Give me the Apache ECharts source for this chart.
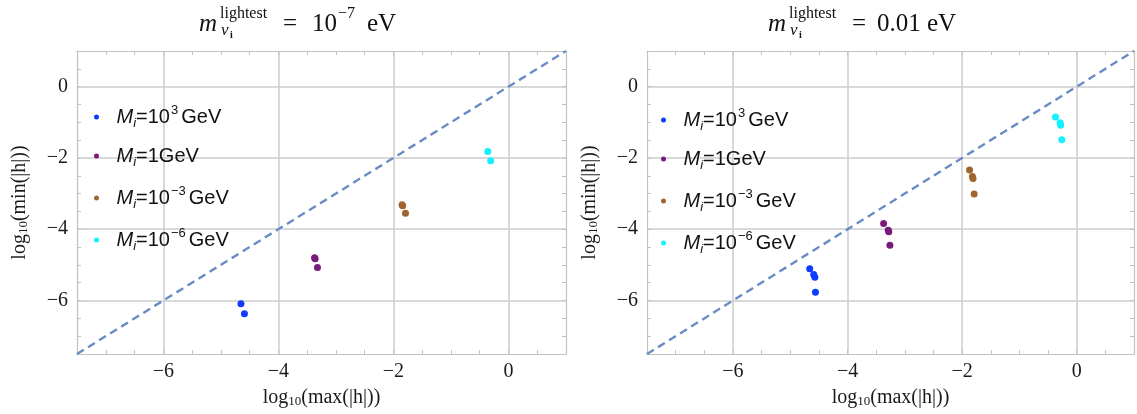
<!DOCTYPE html>
<html>
<head>
<meta charset="utf-8">
<script src="https://cdn.jsdelivr.net/npm/echarts@6/dist/echarts.min.js"></script>
<style>
  html, body { margin: 0; padding: 0; background: #ffffff; }
  #chart { width: 1137px; height: 414px; }
</style>
</head>
<body>
<div id="chart"></div>
<script>
// Shared axis range for both log-log panels (log10 of |h|)
const axisMin = -7.5;
const axisMax = 1;
const tickStep = 0.5;
const labelledTicks = [-6, -4, -2, 0];

// Heavy neutrino masses M_i, as powers of ten in GeV
const massPowers = [3, 0, -3, -6];

// Panel 1: lightest light-neutrino mass 1e-7 eV  [log10 max|h|, log10 min|h|]
const leftM1e3 = [[-4.65, -6.09], [-4.59, -6.37]];
const leftM1 = [[-3.37, -4.80], [-3.36, -4.83], [-3.32, -5.07]];
const leftM1em3 = [[-1.85, -3.31], [-1.84, -3.34], [-1.79, -3.55]];
const leftM1em6 = [[-0.36, -1.82], [-0.31, -2.08]];

// Panel 2: lightest light-neutrino mass 0.01 eV
const rightM1e3 = [[-4.66, -5.11], [-4.59, -5.27], [-4.57, -5.35], [-4.56, -5.77]];
const rightM1 = [[-3.37, -3.84], [-3.29, -4.03], [-3.28, -4.07], [-3.26, -4.45]];
const rightM1em3 = [[-1.87, -2.34], [-1.82, -2.52], [-1.81, -2.58], [-1.79, -3.01]];
const rightM1em6 = [[-0.37, -0.85], [-0.29, -1.01], [-0.28, -1.08], [-0.26, -1.49]];

// Reference diagonal min|h| = max|h|
const diagonal = [[axisMin, axisMin], [axisMax, axisMax]];

const panelData = [
  [leftM1e3, leftM1, leftM1em3, leftM1em6],
  [rightM1e3, rightM1, rightM1em3, rightM1em6]
];

const markerColors = ['#0f3cff', '#7a1a7a', '#a0652e', '#14f0ff'];
const frameColor = '#c2c2c2';
const gridColor = '#cdcdcd';
const serif = '"Liberation Serif", "DejaVu Serif", serif';
const sans = '"Liberation Sans", Arial, sans-serif';

const seriesNames = massPowers.map(p => 'M_i=' + (p === 0 ? '1' : '10^' + p) + 'GeV');

function legendRich(name) {
  const p = massPowers[seriesNames.indexOf(name)];
  if (p === 0) return '{it|M}{sub|i}{t|=1GeV}';
  const e = p < 0 ? '\u2212' + (-p) : String(p);
  return '{it|M}{sub|i}{t|=10}{sup|' + e + '}{t|GeV}';
}

function tickText(v) {
  if (labelledTicks.indexOf(v) < 0) return '';
  return v < 0 ? '\u2212' + (-v) : String(v);
}

const grids = [
  { left: 77, top: 51, width: 489, height: 303 },
  { left: 647, top: 51, width: 489, height: 303 }
];

const nameRich = {
  a: { fontFamily: serif, fontSize: 20, color: '#1a1a1a' },
  s: { fontFamily: serif, fontSize: 13, color: '#1a1a1a', verticalAlign: 'bottom', lineHeight: 13 }
};

// every 4th line (starting at the 4th) is a labelled gridline
const splitColors = ['rgba(0,0,0,0)', 'rgba(0,0,0,0)', 'rgba(0,0,0,0)', gridColor];

const xAxes = [];
const yAxes = [];
grids.forEach((g, gi) => {
  const common = {
    gridIndex: gi, type: 'value', min: axisMin, max: axisMax, interval: tickStep,
    axisLine: { show: true, onZero: false, lineStyle: { color: frameColor, width: 1.2 } },
    axisTick: { show: true, inside: true, length: 4, lineStyle: { color: frameColor, width: 1 } }
  };
  xAxes.push(Object.assign({}, common, {
    position: 'bottom',
    axisLabel: { formatter: tickText, fontFamily: serif, fontSize: 20, color: '#1a1a1a', margin: 8 },
    splitLine: { show: true, lineStyle: { color: splitColors, width: 1.5 } },
    name: '{a|log}{s|10}{a|(max(|h|))}',
    nameLocation: 'middle', nameGap: 34,
    nameTextStyle: { rich: nameRich }
  }));
  xAxes.push(Object.assign({}, common, {
    position: 'top', axisLabel: { show: false }, splitLine: { show: false }
  }));
  yAxes.push(Object.assign({}, common, {
    position: 'left',
    axisLabel: { formatter: tickText, fontFamily: serif, fontSize: 20, color: '#1a1a1a', margin: 9 },
    splitLine: { show: true, lineStyle: { color: splitColors, width: 1.5 } },
    name: '{a|log}{s|10}{a|(min(|h|))}',
    nameLocation: 'middle', nameGap: 47, nameRotate: 90,
    nameTextStyle: { rich: nameRich }
  }));
  yAxes.push(Object.assign({}, common, {
    position: 'right', axisLabel: { show: false }, splitLine: { show: false }
  }));
});

const series = [];
panelData.forEach((groups, gi) => {
  series.push({
    type: 'line', xAxisIndex: gi * 2, yAxisIndex: gi * 2, data: diagonal,
    symbol: 'none', silent: true, z: 1,
    lineStyle: { color: '#6a8cc4', width: 2.4, type: [8, 5] }
  });
  groups.forEach((pts, si) => {
    series.push({
      type: 'scatter', name: seriesNames[si], xAxisIndex: gi * 2, yAxisIndex: gi * 2,
      data: pts, symbol: 'circle', symbolSize: 7, z: 3,
      itemStyle: { color: markerColors[si], opacity: 1 }
    });
  });
});

const legendRichStyles = {
  it: { fontFamily: sans, fontSize: 20, fontStyle: 'italic', color: '#111', lineHeight: 26 },
  t: { fontFamily: sans, fontSize: 20, color: '#111', lineHeight: 26 },
  sub: { fontFamily: sans, fontSize: 13, fontStyle: 'italic', color: '#111', verticalAlign: 'bottom', lineHeight: 12 },
  sup: { fontFamily: sans, fontSize: 13, color: '#111', verticalAlign: 'top', lineHeight: 12, padding: [0, 3, 0, 1] }
};

const legends = [
  { left: 89, top: 99 },
  { left: 656, top: 102 }
].map(pos => ({
  left: pos.left, top: pos.top, orient: 'vertical', itemGap: 16,
  itemWidth: 30, itemHeight: 5, icon: 'circle', selectedMode: false,
  data: seriesNames, formatter: legendRich,
  textStyle: { rich: legendRichStyles }
}));

// Panel titles: m_{nu_i}^{lightest} = value eV
function titleParts(x0, valueParts) {
  const big = 'italic 25px ' + serif;
  const parts = [
    { type: 'text', left: x0, top: 12, style: { text: 'm', font: big, fill: '#111' } },
    { type: 'text', left: x0 + 21, top: 6, style: { text: 'lightest', font: '16px ' + serif, fill: '#111' } },
    { type: 'text', left: x0 + 22, top: 22, style: { text: '\u03bd', font: 'italic 17px ' + serif, fill: '#111' } },
    { type: 'text', left: x0 + 31, top: 30, style: { text: 'i', font: 'bold 10px ' + serif, fill: '#111' } },
    { type: 'text', left: x0 + 84, top: 12, style: { text: '=', font: '25px ' + serif, fill: '#111' } }
  ];
  valueParts.forEach(v => {
    parts.push({ type: 'text', left: x0 + v.dx, top: v.sup ? 6 : 12,
      style: { text: v.text, font: (v.sup ? '16px ' : '25px ') + serif, fill: '#111' } });
  });
  return parts;
}

const graphic = [].concat(
  titleParts(199, [{ text: '10', dx: 113 }, { text: '\u22127', dx: 139, sup: true }, { text: 'eV', dx: 168 }]),
  titleParts(768, [{ text: '0.01', dx: 109 }, { text: 'eV', dx: 159 }])
);

const chart = echarts.init(document.getElementById('chart'));
chart.setOption({
  backgroundColor: '#ffffff',
  animation: false,
  grid: grids,
  xAxis: xAxes,
  yAxis: yAxes,
  legend: legends,
  series: series,
  graphic: graphic
});
</script>
</body>
</html>
